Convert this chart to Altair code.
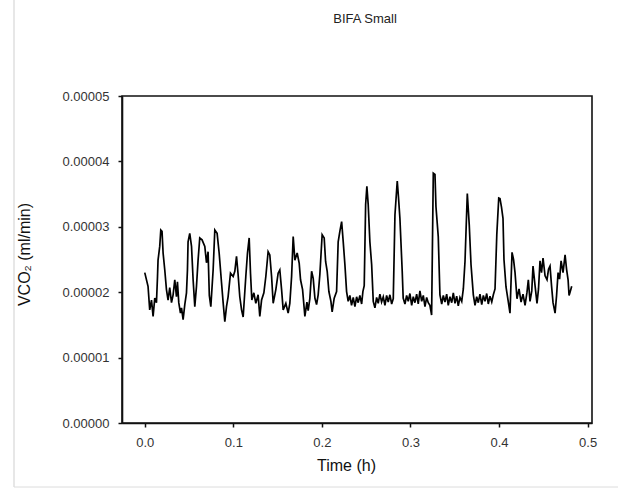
import altair as alt
import pandas as pd

title_text = "BIFA Small"
x_title = "Time (h)"
y_title = "VCO₂ (ml/min)"
x_ticks = [0.0, 0.1, 0.2, 0.3, 0.4, 0.5]
y_ticks = [0.0, 0.00001, 0.00002, 0.00003, 0.00004, 0.00005]

time_h = [
    0.0000, 0.0037, 0.0056, 0.0076, 0.0094, 0.0113, 0.0132, 0.0144, 0.0150, 0.0169,
    0.0181, 0.0195, 0.0207, 0.0226, 0.0245, 0.0263, 0.0282, 0.0302, 0.0320, 0.0339,
    0.0358, 0.0369, 0.0384, 0.0403, 0.0415, 0.0433, 0.0452, 0.0471, 0.0482, 0.0489,
    0.0508, 0.0528, 0.0546, 0.0565, 0.0584, 0.0602, 0.0621, 0.0647, 0.0678, 0.0697,
    0.0715, 0.0729, 0.0746, 0.0772, 0.0791, 0.0817, 0.0840, 0.0867, 0.0885, 0.0904,
    0.0923, 0.0941, 0.0968, 0.0998, 0.1017, 0.1036, 0.1054, 0.1073, 0.1093, 0.1111,
    0.1141, 0.1160, 0.1179, 0.1194, 0.1209, 0.1232, 0.1254, 0.1280, 0.1299, 0.1319,
    0.1345, 0.1367, 0.1393, 0.1412, 0.1432, 0.1450, 0.1480, 0.1506, 0.1525, 0.1545,
    0.1563, 0.1593, 0.1619, 0.1638, 0.1658, 0.1676, 0.1695, 0.1721, 0.1744, 0.1759,
    0.1782, 0.1808, 0.1831, 0.1845, 0.1864, 0.1884, 0.1902, 0.1921, 0.1940, 0.1958,
    0.1977, 0.2003, 0.2026, 0.2042, 0.2060, 0.2079, 0.2102, 0.2116, 0.2139, 0.2166,
    0.2184, 0.2203, 0.2223, 0.2241, 0.2260, 0.2279, 0.2297, 0.2316, 0.2335, 0.2354,
    0.2373, 0.2392, 0.2410, 0.2429, 0.2449, 0.2463, 0.2478, 0.2494, 0.2508, 0.2523,
    0.2542, 0.2562, 0.2580, 0.2599, 0.2618, 0.2636, 0.2655, 0.2674, 0.2693, 0.2712,
    0.2731, 0.2749, 0.2768, 0.2788, 0.2806, 0.2825, 0.2851, 0.2865, 0.2881, 0.2907,
    0.2918, 0.2938, 0.2957, 0.2975, 0.2994, 0.3014, 0.3032, 0.3051, 0.3070, 0.3088,
    0.3107, 0.3127, 0.3145, 0.3164, 0.3183, 0.3201, 0.3220, 0.3239, 0.3258, 0.3277,
    0.3288, 0.3314, 0.3333, 0.3353, 0.3371, 0.3390, 0.3409, 0.3427, 0.3446, 0.3466,
    0.3484, 0.3503, 0.3522, 0.3540, 0.3559, 0.3579, 0.3597, 0.3616, 0.3642, 0.3664,
    0.3684, 0.3710, 0.3729, 0.3748, 0.3766, 0.3785, 0.3805, 0.3823, 0.3842, 0.3861,
    0.3879, 0.3898, 0.3918, 0.3936, 0.3955, 0.3975, 0.3997, 0.4011, 0.4028, 0.4045,
    0.4056, 0.4079, 0.4102, 0.4124, 0.4147, 0.4164, 0.4181, 0.4203, 0.4226, 0.4249,
    0.4271, 0.4294, 0.4316, 0.4331, 0.4350, 0.4370, 0.4384, 0.4407, 0.4429, 0.4446,
    0.4463, 0.4480, 0.4497, 0.4520, 0.4542, 0.4559, 0.4576, 0.4593, 0.4610, 0.4633,
    0.4650, 0.4667, 0.4684, 0.4701, 0.4723, 0.4746, 0.4763, 0.4780, 0.4791, 0.4802,
    0.4821,
]

vco2 = [
    2.30e-5, 2.09e-5, 1.73e-5, 1.88e-5, 1.63e-5, 1.91e-5, 1.84e-5, 2.24e-5, 2.49e-5, 2.70e-5,
    2.95e-5, 2.93e-5, 2.60e-5, 2.34e-5, 2.04e-5, 1.88e-5, 2.07e-5, 1.84e-5, 1.96e-5, 2.19e-5,
    1.93e-5, 2.16e-5, 1.84e-5, 1.68e-5, 1.76e-5, 1.58e-5, 1.81e-5, 1.99e-5, 2.34e-5, 2.77e-5,
    2.90e-5, 2.70e-5, 2.19e-5, 1.78e-5, 2.09e-5, 2.49e-5, 2.83e-5, 2.80e-5, 2.70e-5, 2.45e-5,
    2.62e-5, 1.95e-5, 1.78e-5, 2.34e-5, 2.95e-5, 2.90e-5, 2.60e-5, 2.14e-5, 1.84e-5, 1.55e-5,
    1.78e-5, 1.93e-5, 2.29e-5, 2.24e-5, 2.32e-5, 2.55e-5, 2.27e-5, 1.93e-5, 1.73e-5, 1.62e-5,
    2.24e-5, 2.60e-5, 2.83e-5, 2.29e-5, 1.88e-5, 1.99e-5, 1.83e-5, 1.96e-5, 1.63e-5, 1.88e-5,
    1.99e-5, 2.24e-5, 2.62e-5, 2.57e-5, 2.24e-5, 1.83e-5, 2.04e-5, 2.29e-5, 2.34e-5, 2.04e-5,
    1.73e-5, 1.83e-5, 1.68e-5, 1.83e-5, 2.24e-5, 2.85e-5, 2.49e-5, 2.60e-5, 2.44e-5, 2.19e-5,
    2.04e-5, 1.63e-5, 1.85e-5, 1.72e-5, 1.90e-5, 2.32e-5, 2.21e-5, 1.91e-5, 1.81e-5, 1.96e-5,
    2.27e-5, 2.88e-5, 2.83e-5, 2.47e-5, 2.32e-5, 2.01e-5, 1.86e-5, 1.70e-5, 1.91e-5, 2.01e-5,
    2.77e-5, 2.93e-5, 3.08e-5, 2.77e-5, 2.42e-5, 2.01e-5, 1.86e-5, 1.95e-5, 1.80e-5, 1.92e-5,
    1.78e-5, 1.93e-5, 1.84e-5, 1.95e-5, 1.82e-5, 2.01e-5, 2.10e-5, 3.34e-5, 3.62e-5, 3.34e-5,
    2.77e-5, 2.42e-5, 1.86e-5, 1.76e-5, 1.92e-5, 1.83e-5, 1.97e-5, 1.85e-5, 1.93e-5, 1.80e-5,
    1.95e-5, 1.85e-5, 1.96e-5, 1.82e-5, 1.90e-5, 3.18e-5, 3.70e-5, 3.45e-5, 3.13e-5, 2.32e-5,
    1.91e-5, 1.82e-5, 1.95e-5, 1.86e-5, 1.98e-5, 1.80e-5, 1.93e-5, 1.84e-5, 1.97e-5, 1.82e-5,
    2.02e-5, 1.86e-5, 1.95e-5, 1.78e-5, 1.92e-5, 1.84e-5, 1.80e-5, 1.65e-5, 3.82e-5, 3.80e-5,
    3.31e-5, 2.85e-5, 1.96e-5, 1.82e-5, 1.95e-5, 1.85e-5, 1.97e-5, 1.80e-5, 1.93e-5, 1.84e-5,
    1.99e-5, 1.83e-5, 1.94e-5, 1.79e-5, 1.92e-5, 1.86e-5, 2.05e-5, 2.47e-5, 3.51e-5, 3.03e-5,
    2.42e-5, 1.96e-5, 1.80e-5, 1.93e-5, 1.84e-5, 1.97e-5, 1.81e-5, 1.95e-5, 1.86e-5, 1.98e-5,
    1.82e-5, 1.94e-5, 1.85e-5, 1.96e-5, 2.05e-5, 2.88e-5, 3.44e-5, 3.43e-5, 3.30e-5, 3.13e-5,
    2.50e-5, 2.08e-5, 1.88e-5, 1.68e-5, 2.61e-5, 2.50e-5, 2.30e-5, 1.90e-5, 2.05e-5, 1.85e-5,
    1.97e-5, 1.80e-5, 2.00e-5, 2.19e-5, 1.86e-5, 2.02e-5, 2.40e-5, 2.10e-5, 1.83e-5, 2.05e-5,
    2.48e-5, 2.30e-5, 2.52e-5, 2.25e-5, 2.19e-5, 2.35e-5, 2.40e-5, 2.10e-5, 1.84e-5, 1.68e-5,
    1.95e-5, 2.30e-5, 2.20e-5, 2.48e-5, 2.30e-5, 2.57e-5, 2.35e-5, 2.19e-5, 1.95e-5, 2.00e-5,
    2.09e-5,
]

df = pd.DataFrame({"t": time_h, "v": vco2})

FONT = "Liberation Sans"

line = alt.Chart(df).mark_line(color="#000000", strokeWidth=1.7).encode(
    x=alt.X(
        "t:Q",
        scale=alt.Scale(domain=[-0.0257, 0.505], nice=False, zero=False),
        axis=alt.Axis(
            values=x_ticks, format=".1f", title=x_title,
            labelPadding=9, titlePadding=8, titleX=224, titleAlign="center",
        ),
    ),
    y=alt.Y(
        "v:Q",
        scale=alt.Scale(domain=[0, 0.00005], nice=False, zero=False),
        axis=alt.Axis(
            values=y_ticks, format=".5f", title=y_title,
            labelPadding=9, titleX=-90, titleY=158, titleAlign="center",
        ),
    ),
)

frame_src = pd.DataFrame({"k": [0]})
left_edge = alt.Chart(frame_src).mark_rule(color="#cfcfcf", strokeWidth=1).encode(
    x=alt.value(-108), y=alt.value(-96), y2=alt.value(391)
)
bottom_edge = alt.Chart(frame_src).mark_rule(color="#dcdcdc", strokeWidth=1).encode(
    x=alt.value(-108), x2=alt.value(496), y=alt.value(391)
)

chart = (
    alt.layer(left_edge, bottom_edge, line)
    .properties(
        width=470,
        height=327,
        autosize=alt.AutoSizeParams(type="none"),
        padding={"left": 122, "top": 96, "right": 26, "bottom": 68},
        title=alt.TitleParams(
            title_text, font=FONT, fontSize=13, fontWeight="normal",
            color="#222222", anchor="middle", frame="group", offset=-26, dx=8,
        ),
        background="white",
    )
    .configure_view(stroke="#111111", strokeWidth=1.6)
    .configure_axis(
        domain=True, domainColor="#111111", domainWidth=1.6,
        ticks=True, tickColor="#111111", tickWidth=1.5, tickSize=4,
        grid=False,
        labelFont=FONT, labelFontSize=13, labelColor="#333333",
        titleFont=FONT, titleFontSize=16, titleFontWeight="normal", titleColor="#111111",
    )
)

chart.save("out.html", embed_options={"renderer": "svg", "actions": False})
